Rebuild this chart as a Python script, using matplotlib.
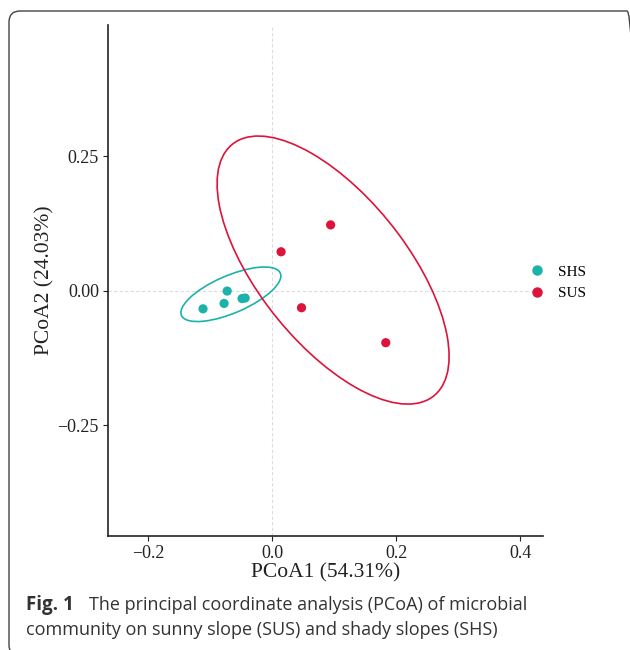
import matplotlib
matplotlib.use("Agg")
import matplotlib.pyplot as plt
from matplotlib.patches import Ellipse, FancyBboxPatch
from matplotlib.lines import Line2D
from matplotlib.transforms import IdentityTransform

# PCoA scores
shs_x = [-0.112, -0.073, -0.078, -0.049, -0.044]
shs_y = [-0.034, -0.001, -0.024, -0.015, -0.014]
sus_x = [0.094, 0.014, 0.047, 0.183]
sus_y = [0.122, 0.072, -0.032, -0.097]

# confidence ellipses: (centre x, centre y, width, height, angle)
shs_ell = (-0.067, -0.007, 0.178, 0.068, 27.2)
sus_ell = (0.098, 0.038, 0.571, 0.250, 122.9)

groups = ['SHS', 'SUS']
colors = ['#1DB2A9', '#DC143C']

xticks = [-0.2, 0.0, 0.2, 0.4]
yticks = [-0.25, 0.0, 0.25]

plt.rcParams['font.family'] = ['Liberation Serif', 'DejaVu Serif']

fig = plt.figure(figsize=(6.3, 6.5), dpi=100)
ax = fig.add_axes([0.1714, 0.1754, 0.6905, 0.7861])

# 零线
ax.axhline(0, color='#dcdcdc', ls=(0, (3, 2)), lw=0.8, zorder=0)
ax.axvline(0, color='#dcdcdc', ls=(0, (3, 2)), lw=0.8, zorder=0)

for (xs, ys, ell), c in zip([(shs_x, shs_y, shs_ell), (sus_x, sus_y, sus_ell)], colors):
    cx, cy, w, h, ang = ell
    ax.add_patch(Ellipse((cx, cy), w, h, angle=ang, fill=False, ec=c, lw=1.2, zorder=2))
    ax.scatter(xs, ys, s=44, color=c, edgecolors='none', zorder=3)

ax.set_xlim(-0.2654, 0.4368)
ax.set_ylim(-0.4563, 0.4935)
ax.set_xticks(xticks)
ax.set_xticklabels(['\u22120.2', '0.0', '0.2', '0.4'])
ax.set_yticks(yticks)
ax.set_yticklabels(['\u22120.25', '0.00', '0.25'])
ax.tick_params(labelsize=13, length=3.5, width=0.8, colors='#222222', pad=3)
for s in ['top', 'right']:
    ax.spines[s].set_visible(False)
for s in ['left', 'bottom']:
    ax.spines[s].set_linewidth(1.2)
    ax.spines[s].set_color('#222222')

ax.set_xlabel('PCoA1 (54.31%)', fontsize=15.5, color='#222222', labelpad=1)
ax.set_ylabel('PCoA2 (24.03%)', fontsize=15.5, color='#222222', labelpad=2)

handles = [Line2D([], [], marker='o', ls='', color=c, markersize=6.5) for c in colors]
fig.legend(handles, groups, loc='center left', bbox_to_anchor=(0.840, 0.5654),
           frameon=False, fontsize=11, handlelength=1, handletextpad=0.87,
           borderpad=0, borderaxespad=0, labelspacing=0.5)

# caption
cap_font = ['Open Sans', 'DejaVu Sans']
fig.text(26 / 630, 1 - 605 / 650, 'Fig. 1', fontsize=13.5, fontweight='bold',
         family=cap_font, color='#333333', va='center', ha='left')
fig.text(89 / 630, 1 - 605 / 650, 'The principal coordinate analysis (PCoA) of microbial',
         fontsize=13, family=cap_font, color='#333333', va='center', ha='left')
fig.text(26 / 630, 1 - 630 / 650, 'community on sunny slope (SUS) and shady slopes (SHS)',
         fontsize=13, family=cap_font, color='#333333', va='center', ha='left')

# 圆角外框 (right and bottom edges fall outside the image)
frame = FancyBboxPatch((9, -6), 629, 645, boxstyle='round,pad=0,rounding_size=11',
                       fill=False, ec='#444444', lw=1.0, transform=IdentityTransform())
fig.add_artist(frame)

fig.savefig('out.png', dpi=100)
